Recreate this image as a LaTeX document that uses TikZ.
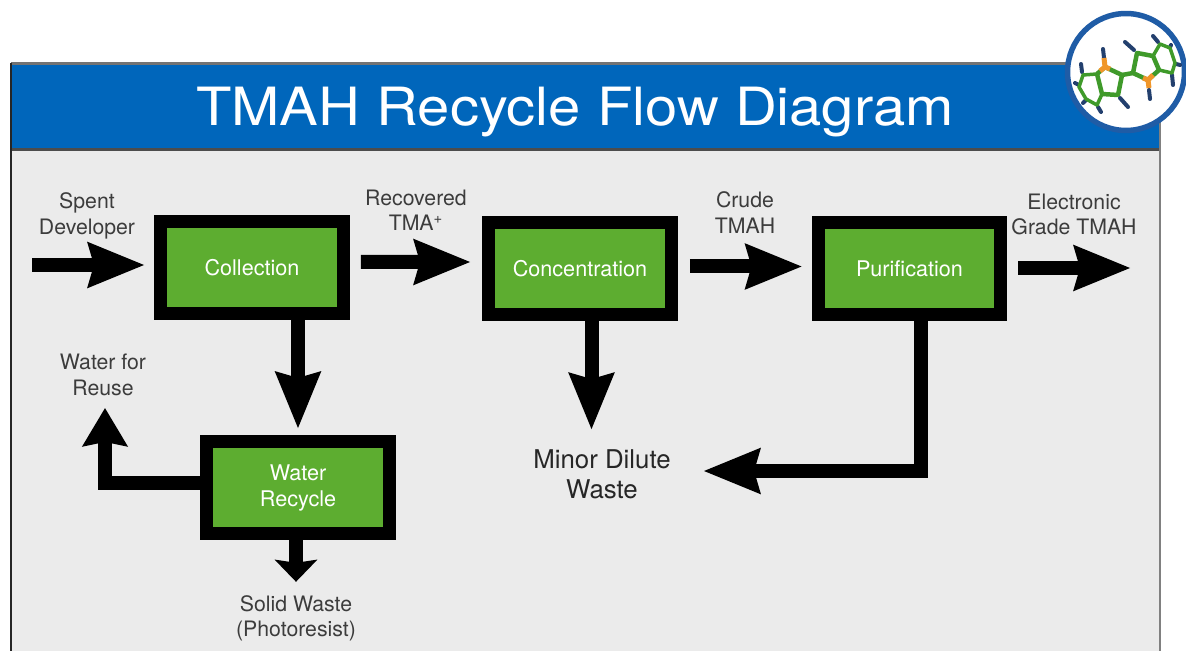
\documentclass[tikz,border=0pt]{standalone}
\usepackage{fontspec}
\setmainfont{TeX Gyre Heros}
\newfontfamily\titlefont[FakeStretch=1.1]{TeX Gyre Heros}
\usepackage{xcolor}
\usepackage{tikz}
\usetikzlibrary{positioning}
\usetikzlibrary{arrows.meta}
\definecolor{panelgray}{HTML}{EBEBEB}
\definecolor{bandblue}{HTML}{0066BB}
\definecolor{boxgreen}{HTML}{5DAD30}
\definecolor{labelgray}{HTML}{3C3C3C}
\definecolor{ringblue}{HTML}{1F5CA6}
\definecolor{bondgreen}{HTML}{3F9A2A}
\definecolor{atomorange}{HTML}{F0962A}
\definecolor{atomblue}{HTML}{23406E}
\tikzset{>=stealth}
\tikzset{flow/.style={line width=.28cm, -{Stealth[length=1.12cm,width=.86cm,inset=.1cm]}}}
\tikzset{flowmid/.style={line width=.28cm, -{Stealth[length=.76cm,width=.88cm,inset=.08cm]}}}
\tikzset{flowshort/.style={line width=.28cm, -{Stealth[length=.44cm,width=.84cm,inset=.06cm]}}}

\begin{document}
\begin{tikzpicture}[x=0.02cm,y=-0.02cm,
            stage/.style={draw=black, line width=.26cm, fill=boxgreen, text=white,
            minimum width=3.66cm, minimum height=1.84cm, align=center,
            font=\fontsize{12.3}{14.8}\selectfont},
            note/.style={inner sep=0pt, align=center, text=labelgray,
            font=\fontsize{12.1}{14.4}\selectfont},
            bond/.style={bondgreen, line width=.09cm, line join=round},
            bondthin/.style={bondgreen, line width=.07cm, line join=round},
            tipblue/.style={atomblue, line width=.08cm, line cap=round},
            tiporange/.style={atomorange, line width=.1cm, line join=round}]
            \useasboundingbox (0,0) rectangle (1186,651);
            \fill[white] (0,0) rectangle (1186,651);
            %% Panel
            \fill[panelgray] (11,150) rectangle (1160,651);
            \fill[bandblue] (11,64) rectangle (1160,150);
            \draw[black!55, line width=.05cm] (11,63.5) -- (1160,63.5);
            \draw[black!70, line width=.05cm] (11,149.5) -- (1160,149.5);
            \draw[black!85, line width=.05cm] (11,63) -- (11,651);
            \draw[black!50, line width=.05cm] (1160,63) -- (1160,651);
            \node[text=white, inner sep=0pt, font=\titlefont\fontsize{30}{36}\selectfont] (title) at (575,112) {TMAH Recycle Flow Diagram};
            %% Stages
            \node[stage] (collection) at (252,267.5) {Collection};
            \node[stage] (concentration) at (580,268.5) {Concentration};
            \node[stage] (purification) at (909.5,268.5) {Purification};
            \node[stage] (waterrecycle) at (298,487.5) {Water\\Recycle};
            %% Labels
            \node[note] (spent) at (87,216) {Spent\\Developer};
            \node[note] (recovered) at (416,210.5) {Recovered\\TMA\textsuperscript{+}};
            \node[note] (crude) at (745,212.5) {Crude\\TMAH};
            \node[note] (grade) at (1074,214.5) {Electronic\\Grade TMAH};
            \node[note] (reuse) at (103,375) {Water for\\Reuse};
            \node[note] (solid) at (296,618) {Solid Waste\\(Photoresist)};
            \node[note, text=black!85, font=\fontsize{14.7}{17}\selectfont] (minorwaste) at (602,474) {Minor Dilute\\Waste};
            \coordinate (spentin) at (32,265);
            \coordinate (gradeout) at (1131,268);
            %% Flows (main line)
            \draw[flow, shorten >=.18cm] (spentin) -- (spentin -| collection.west);
            \draw[flow, shorten <=.22cm, shorten >=.22cm] ([yshift=.11cm]collection.east) -- ([yshift=.13cm]concentration.west);
            \draw[flow, shorten <=.24cm, shorten >=.18cm] ([yshift=.04cm]concentration.east) -- ([yshift=.04cm]purification.west);
            \draw[flow, shorten <=.22cm] (purification.east |- gradeout) -- (gradeout);
            %% Flows (down)
            \draw[flow, shorten >=.12cm] (collection.south -| waterrecycle) -- (waterrecycle.north);
            \draw[flow, shorten >=.38cm] ([xshift=.23cm]concentration.south) -- ([xshift=.23cm]concentration.south |- minorwaste.north);
            \draw[flow, miter limit=10, shorten >=.64cm] ([xshift=.23cm]purification.south) |- ([yshift=.06cm]minorwaste.east);
            %% Flows (water recycle)
            \draw[flowmid, miter limit=10, shorten >=.24cm] ([yshift=.09cm]waterrecycle.west) -| ([xshift=.04cm]reuse.south);
            \draw[flowshort, shorten >=.26cm] (waterrecycle.south -| solid) -- (solid.north);
            %% Logo
            \node[circle, draw=ringblue, line width=.11cm, fill=white, minimum size=2.34cm, inner sep=0pt] (logo) at (1126,72) {};
            \draw[tipblue] (1104,58) -- (1103,49);
            \draw[tipblue] (1082,72) -- (1081,64);
            \draw[tipblue] (1079,85) -- (1075,83);
            \draw[tipblue] (1086,100) -- (1083,103);
            \draw[tipblue] (1098,107) -- (1101,112);
            \draw[tipblue] (1120,98) -- (1128,107);
            \draw[tipblue] (1134,50) -- (1125,42);
            \draw[tipblue] (1158,42) -- (1153,36);
            \draw[tipblue] (1170,47) -- (1171,45);
            \draw[tipblue] (1176,64) -- (1180,65);
            \draw[tipblue] (1172,75) -- (1173,85);
            \draw[tipblue] (1149,90) -- (1150,99);
            \draw[bondthin] (1097,74) -- (1083,75) -- (1079,87) -- (1086,99) -- (1097,105) -- (1102,94);
            \draw[bond] (1097,74) -- (1102,94) -- (1118,95) -- (1122,75) -- (1133,73) -- (1137,53) -- (1153,56) -- (1159,70);
            \draw[bond] (1097,74) -- (1105,67) -- (1122,75);
            \draw[bond] (1133,73) -- (1148,80) -- (1159,70);
            \draw[bondthin] (1153,56) -- (1160,44) -- (1170,48) -- (1175,63) -- (1172,73) -- (1159,70);
            \draw[tiporange] (1100,71) -- (1105,67) -- (1110,69);
            \draw[tiporange] (1105,67) -- (1104,58);
            \draw[tiporange] (1143,78) -- (1148,80) -- (1153,75);
            \draw[tiporange] (1148,80) -- (1149,88);
        \end{tikzpicture}
\end{document}
